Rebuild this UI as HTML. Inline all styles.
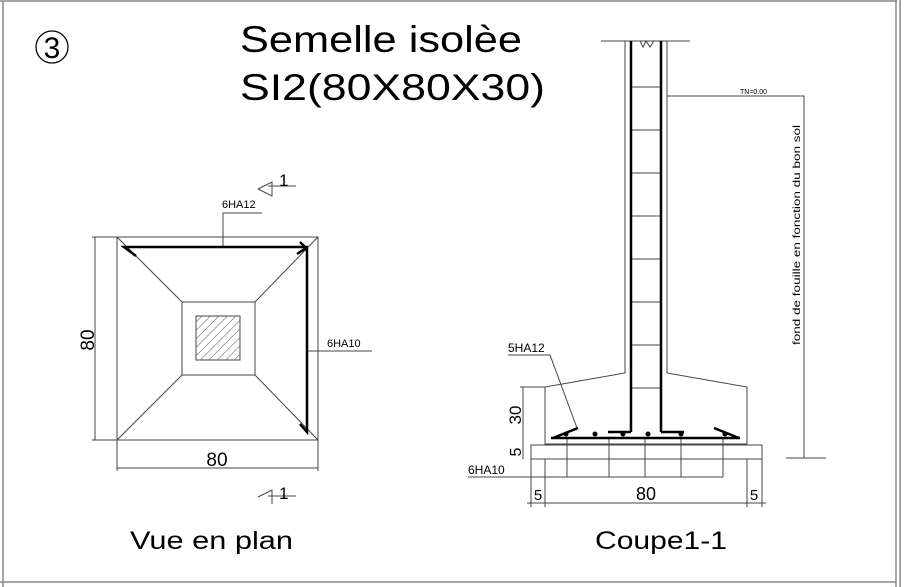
<!DOCTYPE html>
<html><head><meta charset="utf-8"><style>html,body{margin:0;padding:0;background:#fff}svg{display:block}</style></head><body>
<svg width="904" height="587" viewBox="0 0 904 587" xmlns="http://www.w3.org/2000/svg" font-family="Liberation Sans, DejaVu Sans, sans-serif">
<defs><pattern id="h" width="6" height="6" patternUnits="userSpaceOnUse" patternTransform="rotate(45)"><line x1="0" y1="0" x2="0" y2="6" stroke="#555" stroke-width="1"/></pattern></defs>
<g fill="none" stroke="#888" stroke-width="1.5">
<line x1="3" y1="1" x2="3" y2="587"/><line x1="0" y1="1" x2="897" y2="1"/>
<line x1="896" y1="0" x2="896" y2="587"/><line x1="900" y1="0" x2="900" y2="587"/>
<line x1="0" y1="582" x2="896" y2="582"/>
</g>
<circle cx="52" cy="47" r="16" fill="none" stroke="#000" stroke-width="1.3"/>
<text x="52" y="58" font-size="30" text-anchor="middle">3</text>
<text x="240" y="52" font-size="37" textLength="282" lengthAdjust="spacingAndGlyphs">Semelle isolèe</text>
<text x="240" y="100" font-size="37" textLength="305" lengthAdjust="spacingAndGlyphs">SI2(80X80X30)</text>
<!-- plan -->
<g stroke="#444" stroke-width="1" fill="none">
<rect x="117" y="237" width="201" height="203"/>
<rect x="182" y="302" width="73" height="73"/>
<line x1="117" y1="237" x2="182" y2="302"/><line x1="318" y1="237" x2="255" y2="302"/>
<line x1="117" y1="440" x2="182" y2="375"/><line x1="318" y1="440" x2="255" y2="375"/>
<rect x="196" y="316" width="44" height="44" fill="url(#h)"/>
<line x1="95" y1="237" x2="95" y2="440"/><line x1="92" y1="237" x2="117" y2="237"/><line x1="92" y1="440" x2="117" y2="440"/>
<line x1="117" y1="440" x2="117" y2="471"/><line x1="318" y1="440" x2="318" y2="471"/><line x1="117" y1="468" x2="318" y2="468"/>
<polyline points="223,247 223,213 262,213"/>
<line x1="307" y1="351" x2="372" y2="351"/>
<polyline points="258,189 272,182 272,196 258,189"/><line x1="268" y1="186" x2="296" y2="186"/>
<polyline points="258,497 272,490 272,504"/><line x1="268" y1="496" x2="296" y2="496"/>
</g>
<g stroke="#000" stroke-width="2.5" fill="none">
<polyline points="136,256 124,247 308,247"/><polyline points="297,254 306,248 300,242"/>
<polyline points="307,248 307,432 300,424"/>
</g>
<text x="222" y="208" font-size="11">6HA12</text>
<text x="327" y="347" font-size="11">6HA10</text>
<text x="217" y="466" font-size="19" text-anchor="middle">80</text>
<text x="0" y="0" font-size="19" text-anchor="middle" transform="translate(94,340) rotate(-90)">80</text>
<text x="279" y="186" font-size="17">1</text>
<text x="279" y="499" font-size="17">1</text>
<text x="130" y="549" font-size="25" textLength="163" lengthAdjust="spacingAndGlyphs">Vue en plan</text>
<!-- section -->
<g stroke="#444" stroke-width="1" fill="none">
<line x1="601" y1="41" x2="690" y2="41"/>
<polyline points="625,41 625,373 545,387 545,444 747,444 747,387 667,373 667,41"/>
<polyline points="640,41 643,47 646,41 650,47 654,41"/>
<g>
<line x1="631" y1="87" x2="661" y2="87"/><line x1="631" y1="130" x2="661" y2="130"/><line x1="631" y1="173" x2="661" y2="173"/><line x1="631" y1="216" x2="661" y2="216"/><line x1="631" y1="259" x2="661" y2="259"/><line x1="631" y1="302" x2="661" y2="302"/><line x1="631" y1="345" x2="661" y2="345"/><line x1="631" y1="388" x2="661" y2="388"/>
</g>
<polyline points="667,96 804,96 804,458"/><line x1="786" y1="458" x2="826" y2="458"/>
<rect x="531" y="445" width="231" height="14"/>
<line x1="468" y1="477" x2="723" y2="477"/>
<line x1="567" y1="438" x2="567" y2="477"/><line x1="609" y1="438" x2="609" y2="477"/><line x1="645" y1="438" x2="645" y2="477"/><line x1="681" y1="438" x2="681" y2="477"/><line x1="723" y1="438" x2="723" y2="477"/>
<polyline points="508,355 550,355 577,428"/>
<line x1="523" y1="387" x2="523" y2="444"/><line x1="520" y1="387" x2="545" y2="387"/>
<line x1="523" y1="444" x2="523" y2="459"/>
<line x1="545" y1="459" x2="545" y2="507"/><line x1="747" y1="459" x2="747" y2="507"/><line x1="531" y1="459" x2="531" y2="507"/><line x1="762" y1="459" x2="762" y2="507"/>
<line x1="527" y1="503" x2="766" y2="503"/>
</g>
<g stroke="#000" stroke-width="2.5" fill="none">
<line x1="631" y1="41" x2="631" y2="432"/><line x1="661" y1="41" x2="661" y2="432"/>
<polyline points="608,432 631,432"/><polyline points="661,432 684,432"/>
<line x1="551" y1="438" x2="740" y2="438"/>
<polyline points="553,438 578,428"/><polyline points="739,438 714,428"/>
</g>
<g fill="#000"><circle cx="595" cy="434" r="2.5"/><circle cx="623" cy="434" r="2.5"/><circle cx="648" cy="434" r="2.5"/><circle cx="681" cy="434" r="2.5"/><circle cx="566" cy="434" r="2.5"/><circle cx="725" cy="434" r="2.5"/></g>
<text x="508" y="352" font-size="12">5HA12</text>
<text x="468" y="474" font-size="12">6HA10</text>
<text x="740" y="94" font-size="7">TN=0.00</text>
<text x="0" y="0" font-size="10" text-anchor="middle" textLength="220" lengthAdjust="spacingAndGlyphs" transform="translate(800,235) rotate(-90)">fond de fouille en fonction du bon sol</text>
<text x="0" y="0" font-size="17" text-anchor="middle" transform="translate(521,415) rotate(-90)">30</text>
<text x="0" y="0" font-size="16" text-anchor="middle" transform="translate(521,452) rotate(-90)">5</text>
<text x="646" y="500" font-size="18" text-anchor="middle">80</text>
<text x="538" y="500" font-size="15" text-anchor="middle">5</text>
<text x="754" y="500" font-size="15" text-anchor="middle">5</text>
<text x="595" y="549" font-size="25" textLength="132" lengthAdjust="spacingAndGlyphs">Coupe1-1</text>
</svg>
</body></html>
